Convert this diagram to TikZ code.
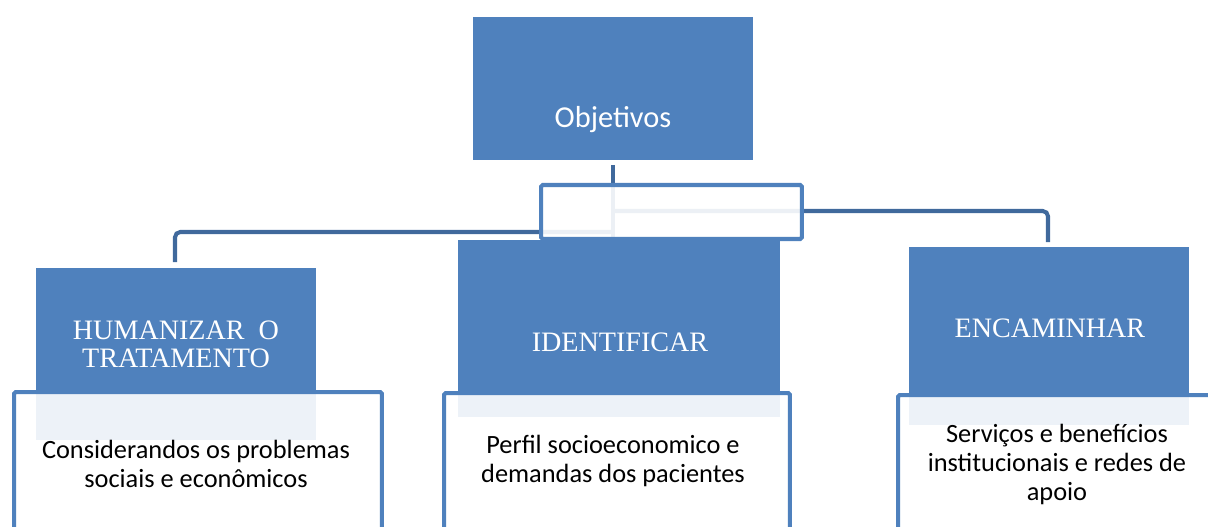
\documentclass[tikz,border=0pt]{standalone}
\usepackage{fontspec}
\setmainfont{Carlito}
\newfontfamily\serifx{Liberation Serif}
\definecolor{boxblue}{HTML}{4F81BD}
\definecolor{linkblue}{HTML}{40699C}
\tikzset{
  bluebox/.style={fill=boxblue, draw=none, anchor=north west, inner sep=0pt},
  outbox/.style={fill=white, fill opacity=0.9, draw=boxblue, draw opacity=1, line width=2.3pt, anchor=north west, inner sep=0pt, rounded corners=1pt},
  link/.style={draw=linkblue, line width=2.3pt, rounded corners=3pt},
  headtxt/.style={text=white, font=\serifx\fontsize{16}{15.9}\selectfont, align=center, inner sep=0pt},
  bodytxt/.style={text=black, font=\fontsize{15}{16.2}\selectfont, align=center, inner sep=0pt},
}
\begin{document}
\begin{tikzpicture}[x=0.02cm, y=-0.02cm]
\useasboundingbox (0,0) rectangle (1208,527);
\clip (0,0) rectangle (1208,527);
% blue heading boxes
\node[bluebox, minimum width=5.6cm, minimum height=2.86cm] (obj) at (473,17) {};
\node[bluebox, minimum width=5.6cm, minimum height=3.44cm] (hum) at (36,268) {};
\node[bluebox, minimum width=6.44cm, minimum height=3.54cm] (ide) at (458,240) {};
\node[bluebox, minimum width=5.6cm, minimum height=3.56cm] (enc) at (909,247) {};
% connector end points
\coordinate (objbot) at (613,165);
\coordinate (junc) at (613,211);
\coordinate (lefty) at (613,232);
\coordinate (humtop) at (175,262);
\coordinate (enctop) at (1048,242);
\draw[link] (objbot) -- (objbot |- ide.north);
\draw[link] (junc) -| (enctop);
\draw[link] (lefty) -| (humtop);
% small connector box
\node[outbox, minimum width=5.22cm, minimum height=1.08cm] (mid) at (539,183) {};
% text boxes
\node[outbox, minimum width=7.36cm, minimum height=3.2cm] (humb) at (12,390) {};
\node[outbox, minimum width=6.92cm, minimum height=3.2cm] (ideb) at (442,391) {};
\node[outbox, minimum width=7cm, minimum height=3.2cm] (encb) at (896,393) {};
% texts
\node[text=white, font=\fontsize{17.3}{18}\selectfont, inner sep=0pt] (objt) at (613,120) {Objetivos};
\node[headtxt] (humt) at (176,344) {HUMANIZAR\ \ O\\TRATAMENTO};
\node[headtxt] (idet) at (620,342) {IDENTIFICAR};
\node[headtxt] (enct) at (1050,328) {ENCAMINHAR};
\node[bodytxt] (humbt) at (196,464) {Considerandos os problemas\\sociais e econômicos};
\node[bodytxt] (idebt) at (613,461) {Perfil socioeconomico e\\demandas dos pacientes};
\node[bodytxt, font=\fontsize{15}{16.5}\selectfont] (encbt) at (1057,464) {Serviços e benefícios\\institucionais e redes de\\apoio};
\end{tikzpicture}
\end{document}
